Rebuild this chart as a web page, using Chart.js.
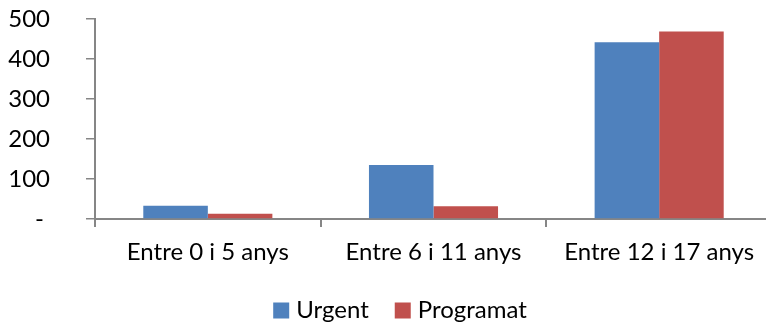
<!DOCTYPE html>
<html>
<head>
<meta charset="utf-8">
<script src="https://cdn.jsdelivr.net/npm/chart.js@4/dist/chart.umd.min.js"></script>
<style>
  html, body { margin: 0; padding: 0; background: #fff; overflow: hidden; }
  #wrap { position: relative; width: 800px; height: 324px; }
</style>
</head>
<body>
<div id="wrap"><canvas id="c"></canvas></div>
<script>
const categories = ['Entre 0 i 5 anys', 'Entre 6 i 11 anys', 'Entre 12 i 17 anys'];
const urgent = [33, 135, 442];
const programat = [13, 32, 469];
const yTicks = [0, 100, 200, 300, 400, 500];

const axisGrey = '#868686';
const fontFamily = 'Lato, "Open Sans", sans-serif';
const fontSize = 24;

// Legend drawn below the axis labels: square swatch + series name, centred.
const bottomLegend = {
  id: 'bottomLegend',
  afterDraw(chart) {
    const ctx = chart.ctx;
    const box = 16, gapText = 7, gapItem = 26;
    const cy = 310.5;
    ctx.save();
    ctx.font = fontSize + 'px ' + fontFamily;
    const items = chart.data.datasets.map(ds => ({
      text: ds.label, color: ds.backgroundColor, w: ctx.measureText(ds.label).width
    }));
    const total = items.reduce((s, it) => s + box + gapText + it.w, 0) + gapItem * (items.length - 1);
    let x = chart.width / 2 - total / 2;
    ctx.textBaseline = 'middle';
    ctx.textAlign = 'left';
    items.forEach(it => {
      ctx.fillStyle = it.color;
      ctx.fillRect(x, cy - box / 2, box, box);
      x += box + gapText;
      ctx.fillStyle = '#000';
      ctx.fillText(it.text, x, cy);
      x += it.w + gapItem;
    });
    ctx.restore();
  }
};

new Chart(document.getElementById('c'), {
  type: 'bar',
  data: {
    labels: categories,
    datasets: [
      { label: 'Urgent', data: urgent, backgroundColor: '#4F81BD' },
      { label: 'Programat', data: programat, backgroundColor: '#C0504D' }
    ]
  },
  plugins: [bottomLegend],
  options: {
    responsive: true,
    maintainAspectRatio: false,
    animation: false,
    layout: { padding: { top: 19, right: 28, left: 0, bottom: 58 } },
    datasets: { bar: { categoryPercentage: 0.572, barPercentage: 1.0 } },
    plugins: {
      tooltip: { enabled: false },
      legend: { display: false }
    },
    scales: {
      x: {
        offset: true,
        grid: { display: true, offset: true, drawOnChartArea: false, color: axisGrey, tickLength: 8, lineWidth: 2 },
        border: { display: true, color: axisGrey, width: 2 },
        ticks: { color: '#000', font: { family: fontFamily, size: fontSize }, padding: 11, maxRotation: 0 },
        afterFit: (scale) => { scale.height = 47; }
      },
      y: {
        min: 0,
        max: 500,
        afterBuildTicks: (axis) => { axis.ticks = yTicks.map(v => ({ value: v })); },
        grid: { display: true, drawOnChartArea: false, color: axisGrey, tickLength: 9, lineWidth: 1.5 },
        border: { display: true, color: axisGrey, width: 2 },
        ticks: {
          color: '#000',
          font: { family: fontFamily, size: fontSize },
          padding: 36,
          callback: (v) => v === 0 ? '- ' : String(v)
        },
        afterFit: (scale) => {
          scale.width = 95;
          scale.paddingTop = 0;
          scale.paddingBottom = 0;
        }
      }
    }
  }
});
</script>
</body>
</html>
